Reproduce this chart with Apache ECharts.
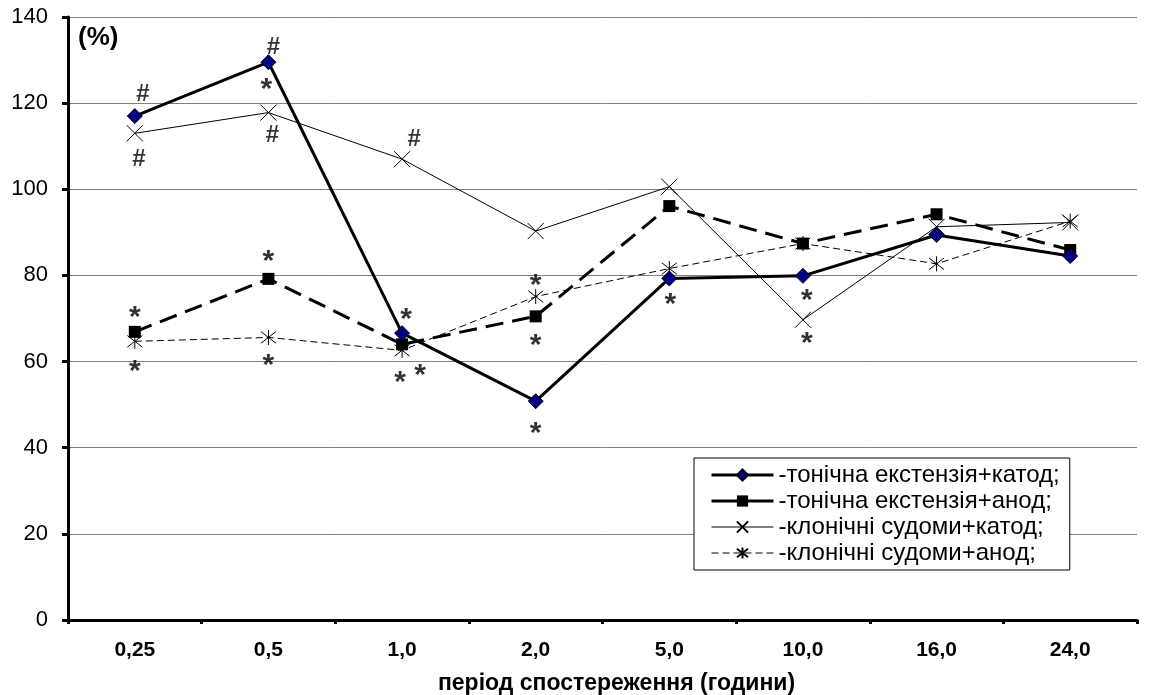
<!DOCTYPE html>
<html>
<head>
<meta charset="utf-8">
<script src="https://cdn.jsdelivr.net/npm/echarts@6/dist/echarts.min.js"></script>
<style>
html,body{margin:0;padding:0;background:#fff;}
#chart{width:1156px;height:695px;}
</style>
</head>
<body>
<div id="chart"></div>
<script>
const categories = ['0,25', '0,5', '1,0', '2,0', '5,0', '10,0', '16,0', '24,0'];
const yTicks = [0, 20, 40, 60, 80, 100, 120, 140];

const seriesNames = [
  '-тонічна екстензія+катод;',
  '-тонічна екстензія+анод;',
  '-клонічні судоми+катод;',
  '-клонічні судоми+анод;'
];
const tonicCathode = [117, 129.5, 66.6, 50.8, 79.3, 79.9, 89.4, 84.5];
const tonicAnode   = [66.9, 79.2, 64.0, 70.5, 96.1, 87.4, 94.2, 85.9];
const clonicCathode = [113, 117.8, 107, 90.3, 100.6, 69.7, 91.3, 92.3];
const clonicAnode   = [64.7, 65.6, 62.6, 75.1, 81.6, 87.4, 82.7, 92.6];

// significance marks: [category, value, mark]
const annotations = [
  ['0,25', 122.5, '#'],
  ['0,25', 107.5, '#'],
  ['0,25', 72, '*'],
  ['0,25', 59.5, '*'],
  ['0,5', 133.5, '#'],
  ['0,5', 125, '*'],
  ['0,5', 113, '#'],
  ['0,5', 85, '*'],
  ['0,5', 61, '*'],
  ['1,0', 112, '#'],
  ['1,0', 71.5, '*'],
  ['1,0', 57, '*'],
  ['1,0', 58.5, '*'],
  ['2,0', 79.5, '*'],
  ['2,0', 65.5, '*'],
  ['2,0', 45, '*'],
  ['5,0', 75, '*'],
  ['10,0', 76, '*'],
  ['10,0', 66, '*']
];
// horizontal nudges (px) so marks don't overlap markers
const annotationDx = [8, 4, 0, 0, 5, -2, 4, 0, 0, 12, 4, -2, 18, 0, 0, 0, 1, 4, 4];

const FONT = 'Arial, "Liberation Sans", sans-serif';
const X_SYMBOL = 'path://M0,0L10,10M10,0L0,10';
const AST_SYMBOL = 'path://M0,0L10,10M10,0L0,10M5,-1.5L5,11.5';

const chart = echarts.init(document.getElementById('chart'));

const annData = annotations.map((a, i) => ({
  value: [categories.indexOf(a[0]), a[1]],
  label: {
    formatter: a[2],
    fontSize: a[2] === '*' ? 30 : 24,
    offset: [annotationDx[i], a[2] === '*' ? 8 : 2]
  }
}));

chart.setOption({
  animation: false,
  backgroundColor: '#fff',
  textStyle: { fontFamily: FONT, color: '#000' },
  grid: { left: 68, right: 19, top: 17, bottom: 75, containLabel: false, outerBoundsMode: 'none' },
  graphic: [{
    type: 'text', left: 78, top: 25,
    style: { text: '(%)', font: 'bold 26px ' + FONT, fill: '#000' }
  }],
  legend: {
    orient: 'vertical',
    left: 694, top: 458,
    backgroundColor: '#fff',
    borderColor: '#000', borderWidth: 1,
    padding: [5, 10, 5, 16],
    itemGap: 2,
    itemWidth: 62, itemHeight: 14,
    textStyle: { fontSize: 24, fontFamily: FONT, color: '#000' },
    data: [
      { name: seriesNames[0], lineStyle: { width: 3 } },
      { name: seriesNames[1], lineStyle: { type: 'solid', width: 3 } },
      { name: seriesNames[2], lineStyle: { width: 1 } },
      { name: seriesNames[3], lineStyle: { width: 1 } }
    ]
  },
  xAxis: {
    type: 'category',
    data: categories,
    boundaryGap: true,
    axisLine: { lineStyle: { color: '#000', width: 3 } },
    axisTick: { show: true, length: 4, inside: false, lineStyle: { color: '#000', width: 3 } },
    axisLabel: { fontSize: 21, fontWeight: 'bold', color: '#000', margin: 20, fontFamily: FONT },
    name: 'період спостереження (години)',
    nameLocation: 'middle',
    nameGap: 52,
    nameTextStyle: { fontSize: 23, fontWeight: 'bold', color: '#000', fontFamily: FONT,
      padding: [0, 0, 0, 28] },
    splitLine: { show: false }
  },
  yAxis: {
    type: 'value',
    min: 0, max: 140, interval: 20,
    axisLine: { show: true, lineStyle: { color: '#000', width: 3 } },
    axisTick: { show: true, length: 6, lineStyle: { color: '#000', width: 3 } },
    axisLabel: { fontSize: 22, color: '#000', margin: 20, fontFamily: FONT,
      formatter: v => yTicks.includes(v) ? String(v) : '' },
    splitLine: { show: true, lineStyle: { color: '#808080', width: 1 } }
  },
  series: [
    {
      name: seriesNames[0], type: 'line', data: tonicCathode, z: 5,
      symbol: 'diamond', symbolSize: 15,
      itemStyle: { color: '#000080', borderColor: '#000', borderWidth: 1 },
      lineStyle: { color: '#000', width: 3 }
    },
    {
      name: seriesNames[1], type: 'line', data: tonicAnode, z: 4,
      symbol: 'rect', symbolSize: 12,
      itemStyle: { color: '#000', borderColor: '#000', borderWidth: 0 },
      lineStyle: { color: '#000', width: 3, type: [18, 9] }
    },
    {
      name: seriesNames[2], type: 'line', data: clonicCathode, z: 3,
      symbol: X_SYMBOL, symbolSize: 16,
      itemStyle: { color: 'rgba(0,0,0,0)', borderColor: '#000', borderWidth: 1 },
      lineStyle: { color: '#000', width: 1 }
    },
    {
      name: seriesNames[3], type: 'line', data: clonicAnode, z: 3,
      symbol: AST_SYMBOL, symbolSize: 15,
      itemStyle: { color: 'rgba(0,0,0,0)', borderColor: '#000', borderWidth: 1 },
      lineStyle: { color: '#000', width: 1, type: [7, 4] }
    },
    {
      name: 'marks', type: 'scatter', data: annData, z: 10,
      symbolSize: 0, silent: true,
      label: {
        show: true, position: 'inside', color: '#000', fontWeight: 'bold',
        fontFamily: FONT, align: 'center', verticalAlign: 'middle'
      }
    }
  ]
});
</script>
</body>
</html>
